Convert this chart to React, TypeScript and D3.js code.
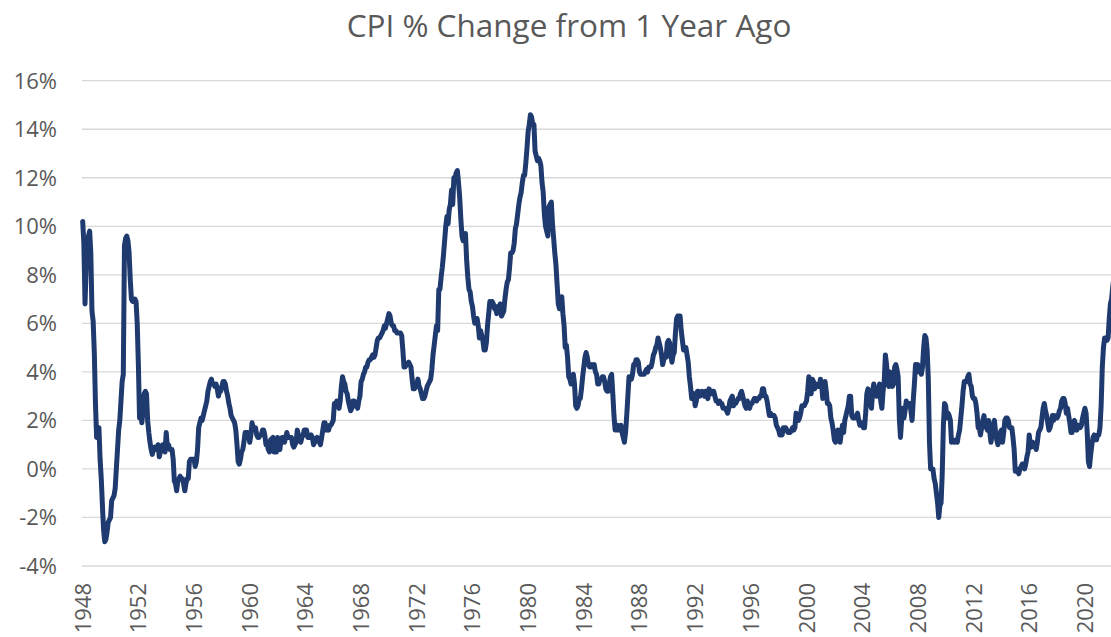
import React from 'react';
import * as d3 from 'd3';

// Monthly CPI, % change from one year ago, starting January 1948
const START_YEAR = 1948;

const cpi1948to1959 = [
  10.2, 9.3, 6.8, 8.3, 9.4, 9.6, 9.8, 8.9, 6.5, 6.1, 4.8, 2.7,
  1.3, 1.3, 1.7, 0.4, -0.4, -1.5, -2.5, -3.0, -2.9, -2.6, -2.2, -2.1,
  -2.0, -1.3, -1.2, -1.1, -0.8, 0.0, 0.8, 1.6, 2.0, 2.8, 3.6, 3.9,
  9.2, 9.5, 9.6, 9.4, 8.9, 7.8, 7.0, 6.9, 6.9, 7.0, 6.9, 6.0,
  4.3, 2.1, 2.2, 1.9, 2.4, 3.1, 3.2, 3.1, 2.0, 1.5, 1.1, 0.8,
  0.6, 0.8, 0.9, 0.8, 0.8, 1.0, 0.5, 0.7, 0.8, 1.0, 0.8, 0.7,
  1.5, 0.9, 1.0, 0.8, 0.8, 0.8, 0.4, -0.5, -0.6, -0.9, -0.5, -0.4,
  -0.3, -0.4, -0.4, -0.6, -0.9, -0.6, -0.4, -0.4, 0.3, 0.4, 0.4, 0.4,
  0.4, 0.1, 0.3, 0.8, 1.7, 1.9, 2.1, 2.0, 2.2, 2.4, 2.6, 2.8,
  3.2, 3.4, 3.6, 3.7, 3.5, 3.5, 3.4, 3.5, 3.3, 3.0, 3.2, 3.2,
  3.4, 3.6, 3.6, 3.5, 3.2, 3.0, 2.7, 2.5, 2.2, 2.1, 2.0, 1.9,
  1.6, 1.0, 0.3, 0.2, 0.4, 0.7, 0.8, 1.1, 1.5, 1.5, 1.5, 1.4,
];

const cpi1960s = [
  1.1, 1.4, 1.9, 1.7, 1.7, 1.7, 1.4, 1.3, 1.3, 1.4, 1.4, 1.6,
  1.6, 1.4, 1.0, 1.0, 0.8, 0.7, 1.2, 1.25, 1.3, 0.7, 0.7, 0.7,
  1.3, 1.0, 0.8, 1.2, 1.3, 1.3, 1.1, 1.3, 1.5, 1.3, 1.3, 1.3,
  1.3, 1.0, 0.9, 1.0, 1.1, 1.6, 1.4, 1.3, 1.1, 1.3, 1.4, 1.6,
  1.6, 1.6, 1.3, 1.3, 1.3, 1.4, 1.3, 1.0, 1.1, 1.25, 1.3, 1.2,
  1.1, 1.0, 1.3, 1.6, 1.9, 1.9, 1.6, 1.7, 1.6, 1.8, 1.8, 1.9,
  2.0, 2.7, 2.6, 2.8, 2.6, 2.5, 2.8, 3.4, 3.8, 3.6, 3.5, 3.2,
  3.1, 2.8, 2.6, 2.4, 2.5, 2.8, 2.8, 2.6, 2.6, 2.5, 2.8, 3.0,
  3.6, 3.7, 3.9, 4.0, 4.2, 4.2, 4.4, 4.5, 4.5, 4.6, 4.7, 4.6,
  4.7, 5.0, 5.3, 5.4, 5.4, 5.5, 5.6, 5.7, 5.9, 5.8, 6.0, 6.2,
];

const cpi1970s = [
  6.4, 6.3, 6.0, 5.9, 5.9, 5.7, 5.7, 5.6, 5.6, 5.6, 5.6, 5.5,
  4.9, 4.2, 4.2, 4.3, 4.3, 4.4, 4.3, 4.2, 3.7, 3.3, 3.3, 3.4,
  3.5, 3.7, 3.4, 3.3, 3.1, 2.9, 2.9, 3.0, 3.2, 3.4, 3.5, 3.6,
  3.7, 4.1, 4.7, 5.1, 5.5, 5.9, 5.7, 7.4, 7.4, 7.9, 8.3, 8.8,
  9.4, 10.0, 10.4, 10.1, 10.7, 10.9, 11.5, 10.9, 12.0, 12.0, 12.2, 12.3,
  11.8, 11.2, 10.3, 9.6, 9.4, 9.4, 9.7, 8.6, 7.9, 7.4, 7.3, 6.9,
  6.7, 6.3, 6.0, 6.0, 6.2, 5.9, 5.4, 5.7, 5.5, 5.3, 4.9, 4.9,
  5.2, 5.9, 6.4, 6.9, 6.7, 6.9, 6.8, 6.6, 6.6, 6.4, 6.7, 6.7,
  6.8, 6.3, 6.4, 6.5, 7.0, 7.4, 7.7, 7.8, 8.3, 8.9, 8.9, 9.0,
  9.3, 9.9, 10.1, 10.5, 10.9, 11.2, 11.4, 11.8, 12.1, 12.1, 12.6, 13.2,
];

const cpi1980s = [
  13.9, 14.2, 14.6, 14.5, 14.2, 14.2, 13.1, 12.9, 12.7, 12.8, 12.7, 12.5,
  11.8, 11.4, 10.5, 10.0, 9.8, 9.6, 10.8, 10.9, 11.0, 10.1, 9.5, 8.9,
  8.4, 7.6, 6.8, 6.6, 6.7, 7.1, 6.4, 5.9, 5.0, 5.1, 4.6, 3.8,
  3.7, 3.5, 3.6, 3.9, 3.5, 2.6, 2.5, 2.6, 2.9, 2.9, 3.3, 3.8,
  4.2, 4.6, 4.8, 4.6, 4.3, 4.2, 4.2, 4.3, 4.2, 4.3, 4.0, 3.9,
  3.5, 3.5, 3.7, 3.7, 3.8, 3.8, 3.6, 3.3, 3.2, 3.2, 3.5, 3.8,
  3.9, 3.1, 2.2, 1.6, 1.6, 1.8, 1.6, 1.6, 1.8, 1.5, 1.3, 1.1,
  1.5, 2.2, 3.0, 3.8, 3.8, 3.7, 3.9, 4.3, 4.3, 4.5, 4.5, 4.4,
  4.0, 3.9, 3.9, 3.9, 3.9, 4.0, 4.1, 4.0, 4.2, 4.2, 4.2, 4.4,
  4.7, 4.8, 5.0, 5.1, 5.4, 5.2, 5.0, 4.7, 4.3, 4.5, 4.7, 4.6,
];

const cpi1990s = [
  5.2, 5.3, 5.2, 4.7, 4.4, 4.7, 4.8, 5.6, 6.2, 6.3, 6.3, 6.3,
  5.7, 5.3, 4.9, 4.9, 5.0, 4.7, 4.4, 3.8, 3.4, 2.9, 3.0, 3.1,
  2.6, 2.8, 3.2, 3.2, 3.0, 3.1, 3.2, 3.1, 3.0, 3.2, 3.0, 2.9,
  3.3, 3.2, 3.1, 3.2, 3.2, 3.0, 2.8, 2.8, 2.7, 2.8, 2.7, 2.7,
  2.5, 2.5, 2.5, 2.4, 2.3, 2.5, 2.8, 2.9, 3.0, 2.6, 2.7, 2.7,
  2.8, 2.9, 2.9, 3.1, 3.2, 3.0, 2.8, 2.6, 2.5, 2.8, 2.6, 2.5,
  2.7, 2.7, 2.8, 2.9, 2.9, 2.8, 2.9, 2.9, 3.0, 3.0, 3.3, 3.3,
  3.0, 3.0, 2.8, 2.5, 2.2, 2.3, 2.2, 2.2, 2.2, 2.1, 1.8, 1.7,
  1.6, 1.4, 1.4, 1.4, 1.7, 1.7, 1.7, 1.6, 1.5, 1.5, 1.5, 1.6,
  1.7, 1.6, 1.7, 2.3, 2.1, 2.0, 2.1, 2.3, 2.6, 2.6, 2.6, 2.7,
];

const cpi2000s = [
  2.8, 3.2, 3.8, 3.1, 3.1, 3.7, 3.6, 3.3, 3.5, 3.4, 3.4, 3.4,
  3.7, 3.5, 2.9, 3.3, 3.6, 3.2, 2.7, 2.7, 2.6, 2.1, 1.9, 1.6,
  1.2, 1.1, 1.5, 1.6, 1.2, 1.1, 1.5, 1.8, 1.5, 2.0, 2.2, 2.4,
  2.6, 3.0, 3.0, 2.2, 2.1, 2.1, 2.1, 2.2, 2.3, 2.0, 1.8, 1.9,
  1.9, 1.7, 1.7, 2.3, 3.1, 3.3, 3.0, 2.7, 2.5, 3.2, 3.5, 3.3,
  3.0, 3.0, 3.1, 3.5, 2.8, 2.5, 3.2, 3.6, 4.7, 4.3, 3.5, 3.4,
  4.0, 3.6, 3.4, 3.5, 4.2, 4.3, 4.1, 3.8, 2.1, 1.3, 2.0, 2.5,
  2.1, 2.4, 2.8, 2.6, 2.7, 2.7, 2.4, 2.0, 2.8, 3.5, 4.3, 4.1,
  4.3, 4.0, 4.1, 3.9, 4.2, 5.0, 5.5, 5.4, 4.9, 3.7, 1.1, 0.0,
  0.0, 0.0, -0.4, -0.6, -1.0, -1.4, -2.0, -1.5, -1.4, -0.2, 1.8, 2.7,
];

const cpi2010s = [
  2.6, 2.1, 2.3, 2.2, 2.0, 1.1, 1.2, 1.1, 1.1, 1.2, 1.1, 1.4,
  1.6, 2.1, 2.6, 3.2, 3.6, 3.6, 3.6, 3.8, 3.9, 3.5, 3.4, 3.0,
  2.9, 2.9, 2.7, 2.3, 1.7, 1.7, 1.4, 1.7, 2.0, 2.2, 1.8, 1.7,
  1.6, 2.0, 1.5, 1.1, 1.4, 1.8, 2.0, 1.5, 1.2, 1.0, 1.2, 1.5,
  1.6, 1.1, 1.5, 2.0, 2.1, 2.1, 2.0, 1.7, 1.7, 1.7, 1.3, 0.8,
  -0.1, 0.0, -0.1, -0.2, 0.0, 0.1, 0.2, 0.2, 0.0, 0.2, 0.5, 0.7,
  1.4, 1.0, 0.9, 1.1, 1.0, 1.0, 0.8, 1.1, 1.5, 1.6, 1.7, 2.1,
  2.5, 2.7, 2.4, 2.2, 1.9, 1.6, 1.7, 1.9, 2.2, 2.0, 2.2, 2.1,
  2.1, 2.2, 2.4, 2.5, 2.8, 2.9, 2.9, 2.7, 2.3, 2.5, 2.2, 1.9,
  1.5, 1.5, 1.9, 2.0, 1.8, 1.6, 1.8, 1.7, 1.7, 1.8, 2.1, 2.3,
];

const cpi2020s = [
  2.5, 2.3, 1.5, 0.3, 0.1, 0.6, 1.0, 1.3, 1.4, 1.2, 1.2, 1.4,
  1.4, 1.7, 2.6, 4.2, 5.0, 5.4, 5.4, 5.3, 5.4, 6.2, 6.8, 7.0,
  7.5, 7.9,
];

const yTicks = [-4, -2, 0, 2, 4, 6, 8, 10, 12, 14, 16];
const yearLabels = [
  1948, 1952, 1956, 1960, 1964, 1968, 1972, 1976, 1980, 1984,
  1988, 1992, 1996, 2000, 2004, 2008, 2012, 2016, 2020,
];
const chartTitle = 'CPI % Change from 1 Year Ago';

const W = 1111;
const H = 637;
const FONT = "'Open Sans', 'Noto Sans', sans-serif";
const TEXT = '#595959';

export default function App() {
  const values: number[] = [
    ...cpi1948to1959,
    ...cpi1960s,
    ...cpi1970s,
    ...cpi1980s,
    ...cpi1990s,
    ...cpi2000s,
    ...cpi2010s,
    ...cpi2020s,
  ];

  // month index -> x (Jan 1948 ... Jan 2020)
  const x = d3.scaleLinear().domain([0, (2020 - START_YEAR) * 12]).range([82.7, 1084.9]);
  const y = d3.scaleLinear().domain([-4, 16]).range([566, 80.7]);

  const linePath = d3
    .line<number>()
    .x((_, i) => x(i))
    .y((d) => y(d))
    .curve(d3.curveLinear)(values) as string;

  return (
    <svg
      width={W}
      height={H}
      viewBox={`0 0 ${W} ${H}`}
      style={{ position: 'absolute', left: 0, top: 0, background: '#fff' }}
      fontFamily={FONT}
    >
      <rect x={0} y={0} width={W} height={H} fill="#fff" />
      <text x={569} y={37} textAnchor="middle" fontSize={31.5} fill={TEXT}>
        {chartTitle}
      </text>

      {yTicks.map((t) => (
        <g key={t}>
          <line x1={82} x2={W} y1={y(t)} y2={y(t)} stroke="#D9D9D9" strokeWidth={1.3} />
          <text x={57} y={y(t)} dy="0.36em" textAnchor="end" fontSize={22} fill={TEXT}>
            {`${t}%`}
          </text>
        </g>
      ))}

      {yearLabels.map((yr) => {
        const xi = x((yr - START_YEAR) * 12);
        return (
          <text
            key={yr}
            transform={`translate(${xi + 8},583) rotate(-90)`}
            textAnchor="end"
            fontSize={22}
            fill={TEXT}
          >
            {yr}
          </text>
        );
      })}

      <path
        d={linePath}
        fill="none"
        stroke="#1F3A6F"
        strokeWidth={5}
        strokeLinejoin="round"
        strokeLinecap="round"
      />
    </svg>
  );
}
